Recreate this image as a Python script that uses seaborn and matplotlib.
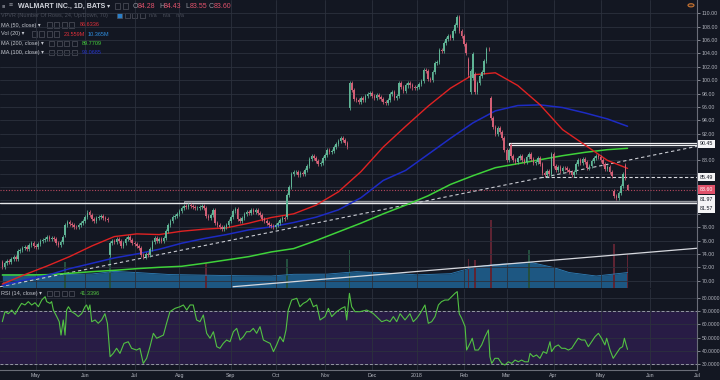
import numpy as np
import pandas as pd
import matplotlib.pyplot as plt
import matplotlib.transforms as mtransforms
from matplotlib.patches import Rectangle, Circle
import seaborn as sns

# trading calendar of the chart (NYSE holidays are skipped)
start_date = "2017-04-07"
calendar_end = "2018-07-31"
holidays = ["2017-04-14", "2017-05-29", "2017-07-04", "2017-09-04", "2017-11-23",
            "2017-12-25", "2018-01-01", "2018-01-15", "2018-02-19", "2018-03-30",
            "2018-05-28", "2018-07-04"]

# daily closes 2017-04-07 .. 2018-05-17
closes = [
    72.1, 72.6, 73.0, 72.8, 73.3, 73.5, 73.2, 74.4, 74.6, 74.9, 75.0, 74.8, 75.3, 75.6, 75.2,  # Apr
    75.1, 75.5, 76.0, 76.1, 76.3, 76.6, 76.2, 76.4, 76.2, 75.6, 75.3, 75.8, 76.6, 78.4, 78.8,
    78.5, 78.3, 78.1, 78.0, 78.3, 78.6, 78.9,  # May
    79.6, 80.2, 79.8, 79.2, 79.0, 79.4, 79.5, 79.7, 79.4, 79.2, 79.1, 75.6, 75.9, 75.8, 76.2,
    76.0, 75.2, 75.6, 76.3, 76.5, 76.1, 75.7,  # Jun
    75.5, 75.2, 74.9, 73.8, 73.6, 74.0, 73.9, 74.8, 75.8, 76.4, 76.0, 76.2, 76.0, 76.4, 77.4,
    78.3, 78.9, 79.5, 79.7, 80.0,  # Jul
    80.4, 80.8, 81.1, 81.0, 81.3, 81.2, 81.0, 80.8, 80.9, 81.0, 81.2, 80.9, 79.7, 79.4, 79.9,
    80.5, 78.7, 78.4, 78.0, 77.8, 78.1, 78.4, 79.0,  # Aug
    79.5, 80.4, 80.7, 79.2, 78.9, 79.4, 80.0, 80.2, 80.1, 80.5, 80.3, 80.6, 80.1, 79.8, 79.3,
    79.0, 78.7, 78.4, 78.2, 78.1,  # Sep
    78.3, 78.6, 79.1, 79.4, 79.3, 82.8, 84.0, 85.9, 86.2, 86.3, 85.8, 86.1, 85.9, 86.5, 87.2,
    88.2, 88.6, 88.3, 87.9, 87.4, 87.6, 88.4,  # Oct
    88.8, 89.5, 89.2, 89.4, 90.0, 90.4, 90.9, 91.3, 91.0, 90.6, 90.0, 99.6, 98.6, 97.2, 97.0,
    96.8, 97.3, 97.0, 97.6, 97.9, 98.1,  # Nov
    97.6, 97.3, 97.8, 97.5, 97.2, 96.8, 96.6, 97.1, 97.9, 98.3, 97.4, 97.6, 99.6, 99.0, 98.4,
    99.2, 99.5, 99.2, 98.9, 98.8,  # Dec
    99.0, 99.4, 99.8, 101.5, 101.3, 100.2, 100.0, 101.2, 102.5, 102.7, 104.5, 104.3, 105.6,
    106.1, 106.6, 106.3, 107.4, 108.3, 109.5, 107.3, 106.6,  # Jan
    105.4, 104.1, 100.7, 101.4, 103.9, 98.2, 99.6, 100.6, 101.2, 102.8, 104.7, 104.6, 94.4,
    93.0, 91.9, 92.9, 92.3, 91.3, 89.6,  # Feb
    88.0, 89.6, 88.6, 88.0, 87.8, 88.3, 88.6, 88.1, 87.8, 88.5, 88.9, 88.2, 87.6, 87.8, 88.3,
    87.4, 86.1, 85.8, 86.4, 86.0, 89.0,  # Mar
    87.2, 86.6, 87.0, 86.4, 86.9, 86.8, 86.5, 86.2, 85.8, 86.3, 87.4, 88.0, 87.6, 88.2, 87.7,
    86.8, 87.2, 87.9, 88.4, 88.6, 88.5,  # Apr
    88.0, 87.5, 86.7, 87.0, 86.3, 85.6, 82.6, 82.3, 83.1, 84.1, 86.0, 85.4, 83.6,  # May
]
# sessions whose open gapped away from the prior close
gap_opens = {0: 72.8, 28: 76.9, 48: 73.9, 127: 79.6, 155: 95.8, 208: 103.2, 209: 98.3,
             210: 100.3, 211: 100.9, 218: 97.4, 227: 90.3, 273: 83.4, 278: 87.3, 279: 84.28}
last_high, last_low = 84.43, 83.55

# moving averages, sampled every 10 sessions
ma_day = [0, 10, 20, 30, 40, 50, 60, 70, 80, 90, 100, 110, 120, 130, 140, 150, 160, 170,
          180, 190, 200, 210, 220, 230, 240, 250, 260, 270, 279]
ma50 = [69.5, 70.9, 72.2, 73.6, 75.2, 76.6, 77.0, 76.9, 77.4, 77.7, 77.9, 78.6, 79.45, 80.0,
        81.3, 83.3, 86.3, 90.0, 93.1, 96.1, 98.8, 100.8, 101.1, 99.2, 96.3, 92.6, 90.3, 88.0, 86.8]
ma100 = [69.3, 70.1, 70.8, 71.8, 72.6, 73.4, 74.0, 74.7, 75.6, 76.3, 76.9, 77.6, 78.05, 78.7,
         79.5, 80.6, 82.4, 85.0, 86.5, 88.9, 91.3, 93.6, 95.4, 96.2, 96.3, 95.9, 95.1, 94.2, 93.1]
ma200 = [70.85, 70.85, 70.9, 71.1, 71.35, 71.55, 71.8, 72.0, 72.15, 72.6, 73.1, 73.6, 74.3, 74.8,
         76.0, 77.3, 78.6, 80.0, 81.3, 82.7, 84.4, 85.7, 86.9, 87.5, 88.1, 88.7, 89.2, 89.6, 89.8]

# volume (millions): 20-day average area and the few bars that stick out above it
vol_ma_day = [0, 20, 40, 50, 60, 75, 90, 105, 120, 130, 145, 158, 170, 185, 200, 210, 220,
              236, 246, 253, 265, 272, 279]
vol_ma = [8.8, 8.8, 9.4, 11.2, 10.4, 9.0, 8.6, 8.2, 8.0, 9.2, 9.3, 11.0, 10.2, 8.8, 9.6, 14.0,
          16.0, 17.4, 13.9, 10.4, 8.0, 9.2, 10.4]
vol_spike_day = [28, 48, 91, 127, 155, 208, 211, 218, 235, 273, 279]
vol_spike = [18, 21, 17, 20, 26, 20, 19, 47, 26, 30, 23.6]

# RSI(14): (session, value)
rsi_points = [
    (0, 62.0), (1.2, 69.5), (2.7, 68.0), (4.2, 70.7), (5.7, 67.5), (7.2, 72.0), (8.6, 75.7),
    (10.1, 74.5), (11.6, 77.0), (13.1, 74.5), (14.6, 76.2), (16.1, 73.2), (17.6, 78.2),
    (19.1, 80.7), (19.8, 77.0), (21.3, 75.7), (22.0, 77.0), (22.8, 70.7), (24.3, 65.8),
    (25.4, 62.0), (26.2, 52.0), (27.2, 63.3), (28.0, 52.0), (28.7, 70.7), (29.5, 73.2),
    (30.9, 69.5), (32.4, 68.0), (33.9, 65.8), (35.4, 68.0), (36.9, 73.2), (37.6, 74.5),
    (38.4, 70.7), (39.1, 74.5), (39.9, 62.0), (41.4, 63.3), (42.8, 60.8), (44.3, 63.3),
    (45.8, 68.0), (46.9, 60.8), (48.1, 35.8), (49.5, 38.3), (51.0, 42.1), (52.5, 38.3),
    (54.3, 45.8), (56.2, 47.0), (57.7, 42.1), (59.9, 40.8), (61.4, 42.1), (62.9, 30.8),
    (64.4, 34.6), (65.9, 43.3), (67.4, 53.3), (68.9, 49.6), (70.4, 50.8), (71.9, 52.0),
    (73.3, 60.8), (74.8, 69.5), (77.1, 72.0), (79.3, 73.2), (80.8, 74.5), (82.3, 70.7),
    (83.8, 74.5), (85.2, 74.5), (86.7, 63.3), (88.2, 62.0), (89.7, 67.0), (91.2, 53.3),
    (92.7, 49.6), (94.2, 54.5), (95.7, 43.3), (97.1, 42.1), (98.6, 45.8), (100.1, 48.3),
    (101.6, 47.0), (103.1, 54.5), (104.6, 57.0), (106.1, 48.3), (107.6, 50.8), (109.0, 54.5),
    (110.5, 54.5), (112.0, 57.0), (113.5, 53.3), (115.0, 58.3), (116.5, 48.3), (118.0, 47.0),
    (119.5, 45.8), (121.0, 39.6), (122.4, 44.6), (123.9, 50.8), (125.4, 47.0), (126.6, 55.8),
    (127.6, 70.7), (129.1, 78.2), (131.4, 79.5), (132.8, 73.2), (134.3, 75.7), (135.8, 77.0),
    (137.3, 79.5), (138.8, 73.2), (140.3, 74.5), (141.8, 63.3), (144.0, 65.8), (145.5, 72.0),
    (147.0, 65.8), (149.2, 69.5), (151.4, 72.0), (152.9, 73.2), (153.7, 63.3), (154.9, 83.2),
    (155.9, 73.2), (157.4, 69.5), (159.6, 69.5), (162.6, 70.7), (164.1, 69.5), (165.6, 68.0),
    (167.8, 64.5), (169.3, 62.0), (171.5, 63.3), (173.0, 62.0), (174.5, 65.8), (176.0, 62.0),
    (177.5, 68.0), (179.7, 63.3), (181.9, 68.0), (183.4, 62.0), (184.9, 64.5), (186.4, 68.0),
    (188.6, 74.5), (190.1, 60.8), (191.6, 62.0), (193.1, 65.8), (194.6, 74.5), (196.0, 77.0),
    (197.5, 78.2), (199.0, 78.2), (200.5, 80.7), (202.0, 83.2), (203.0, 84.5), (203.9, 68.0),
    (205.0, 64.5), (206.5, 58.3), (207.2, 40.8), (208.7, 45.8), (209.7, 49.6), (210.9, 40.8),
    (212.4, 40.8), (213.9, 44.6), (215.4, 50.8), (216.9, 55.8), (217.6, 35.8), (218.4, 30.8),
    (219.8, 34.6), (221.3, 34.6), (222.8, 30.8), (224.3, 29.6), (225.8, 32.0), (227.3, 30.8),
    (228.8, 33.3), (230.3, 32.0), (231.7, 33.3), (233.2, 32.0), (234.7, 32.0), (235.5, 38.3),
    (236.9, 35.8), (238.4, 37.1), (239.9, 34.6), (241.4, 39.6), (242.9, 38.3), (244.4, 47.0),
    (245.1, 39.6), (246.6, 43.3), (248.1, 44.6), (249.6, 42.1), (251.1, 42.1), (252.6, 40.8),
    (254.1, 42.1), (255.5, 45.8), (257.0, 49.6), (258.5, 48.3), (260.0, 48.3), (261.5, 43.3),
    (263.0, 47.0), (264.5, 50.8), (266.0, 53.3), (267.4, 49.6), (268.9, 44.6), (269.7, 49.6),
    (271.2, 40.8), (272.6, 34.6), (274.1, 38.3), (275.6, 42.1), (276.8, 43.3), (277.6, 49.6),
    (278.4, 44.6), (279.0, 41.3),
]

# drawings on the chart
trend_dash_day, trend_dash_price = [-1.0, 310.0], [69.1, 90.1]
trend_low_day, trend_low_price = [103.0, 310.0], [69.1, 74.85]
resist_box = (226, 90.25, 90.55)          # start session, bottom, top
support_box = (81, 81.57, 81.97)
support_dash = (240, 85.49)
last_price = 83.60
hidden_scale_labels = [80, 82, 84, 86, 90]   # covered by the price tags

# ---------------------------------------------------------------
BG = "#131722"
GRID = "#2c313d"
TXT = "#b2b5be"
UP, DN = "#5fb495", "#d35f76"

sns.set_theme(style="dark", rc={"axes.facecolor": BG, "figure.facecolor": BG,
                                "savefig.facecolor": BG, "axes.edgecolor": "#5d606b"})
plt.rcParams["font.family"] = ["Liberation Sans", "DejaVu Sans"]

c = np.array(closes)
o = np.r_[c[0], c[:-1]]
for k, v in gap_opens.items():
    o[k] = v
hi = np.maximum(o, c) + 0.3
lo = np.minimum(o, c) - 0.3
hi[-1], lo[-1] = last_high, last_low
days = np.arange(len(c))
col = np.where(c >= o, UP, DN)

cal = pd.bdate_range(start_date, calendar_end, freq="C", holidays=holidays)
pos = pd.Series(np.arange(len(cal)), index=cal)
firsts = pos.groupby(cal.to_period("M")).first().iloc[1:]
mticks = firsts.values
mlabels = [str(p.year) if p.month == 1 else p.strftime("%b") for p in firsts.index]

W, H = 720, 380
fig = plt.figure(figsize=(7.2, 3.8), dpi=100)
ax = fig.add_axes([0, 1 - 287.5 / H, 697 / W, 287.5 / H])
axr = fig.add_axes([0, 1 - 370 / H, 697 / W, 81 / H], sharex=ax)
axv = ax.twinx()
ax.set_zorder(axv.get_zorder() + 1)
ax.patch.set_visible(False)
axv.patch.set_facecolor(BG)

xlim = (-1.03, 310.0)
ax.set_xlim(*xlim)
ax.set_ylim(68.98, 111.99)
axv.set_ylim(0, 200)
axr.set_ylim(25.87, 86.45)

# volume
axv.fill_between(vol_ma_day, 0, vol_ma, color="#1d5782", lw=0)
axv.plot(vol_ma_day, vol_ma, color="#2f7fb8", lw=0.6)
spike_col = ["#24503f" if c[d] >= o[d] else "#5e2433" for d in vol_spike_day]
axv.bar(vol_spike_day, vol_spike, width=0.7, color=spike_col, lw=0)
axv.set_yticks([])
for s in axv.spines.values():
    s.set_visible(False)

# grid
for a in (ax, axr):
    a.set_xticks(mticks)
    a.grid(True, color=GRID, lw=0.6)
    a.set_axisbelow(True)
ax.set_yticks(np.arange(70, 111, 2))
axr.set_yticks(np.arange(30, 81, 10))

# drawings under the candles
ax.add_patch(Rectangle((support_box[0], support_box[1]), xlim[1] - support_box[0],
                       support_box[2] - support_box[1], fc="#8e919b", ec="#e6e7ea",
                       alpha=0.55, lw=0.7, zorder=2))
ax.axhline(support_box[1], color="#e6e7ea", lw=1.0, zorder=2)
ax.add_patch(Rectangle((resist_box[0], resist_box[1]), xlim[1] - resist_box[0],
                       resist_box[2] - resist_box[1], fc="none", ec="#f0f1f3", lw=0.9, zorder=2))
ax.plot([support_dash[0], xlim[1]], [support_dash[1]] * 2, color="#d8dae0", lw=0.8,
        ls=(0, (3, 2)), zorder=2)
ax.axhline(last_price, color="#b8485f", lw=0.8, ls=(0, (1, 1.5)), zorder=2)
ax.plot(trend_dash_day, trend_dash_price, color="#c9cbd2", lw=0.8, ls=(0, (3, 2.5)), zorder=2)
ax.plot(trend_low_day, trend_low_price, color="#d6d8de", lw=0.9, zorder=2)

# moving averages
sns.lineplot(x=ma_day, y=ma200, ax=ax, color="#3fd23a", lw=1.1, zorder=5)
sns.lineplot(x=ma_day, y=ma100, ax=ax, color="#1d2bc4", lw=1.1, zorder=5)
sns.lineplot(x=ma_day, y=ma50, ax=ax, color="#e02222", lw=1.0, zorder=5)

# candles
ax.vlines(days, lo, hi, colors=col, lw=0.55, zorder=6)
ax.bar(days, np.maximum(np.abs(c - o), 0.1), bottom=np.minimum(o, c), width=0.7,
       color=col, lw=0, zorder=6)

# RSI pane
axr.axhspan(30, 70, color="#281c45", zorder=0)
for lvl in (70, 30):
    axr.axhline(lvl, color="#9598a4", lw=0.7, ls=(0, (3, 2)), zorder=2)
rsi_day = [p[0] for p in rsi_points]
rsi_val = [p[1] for p in rsi_points]
sns.lineplot(x=rsi_day, y=rsi_val, ax=axr, color="#52c143", lw=0.8, zorder=3)

# axes styling
for a in (ax, axr):
    a.set_xlabel("")
    a.set_ylabel("")
    a.yaxis.tick_right()
    for side in ("top", "left", "bottom"):
        a.spines[side].set_visible(False)
    a.spines["right"].set_color("#6a6d78")
    a.spines["right"].set_linewidth(0.8)
    a.tick_params(axis="y", labelsize=3.8, colors=TXT, length=2, width=0.5, pad=1.2)
ax.yaxis.set_major_formatter(plt.FuncFormatter(
    lambda v, p: "" if round(v) in hidden_scale_labels else f"{v:.2f}"))
axr.yaxis.set_major_formatter(plt.FormatStrFormatter("%.4f"))
axr.tick_params(axis="y", labelsize=3.6)
ax.tick_params(axis="x", labelbottom=False, length=0)
axr.spines["bottom"].set_visible(True)
axr.spines["bottom"].set_color("#6a6d78")
axr.spines["bottom"].set_linewidth(0.8)
axr.set_xticklabels(mlabels)
axr.tick_params(axis="x", labelsize=3.8, colors=TXT, length=0, pad=2.2)

# price labels on the scale
blend = mtransforms.blended_transform_factory(ax.transAxes, ax.transData)
def tag(price, text, fc, tc, dy=0):
    ax.annotate(text, xy=(1.0, price), xycoords=blend, xytext=(2.5, dy),
                textcoords="offset pixels", ha="left", va="center", fontsize=3.8,
                color=tc, annotation_clip=False, zorder=10,
                bbox=dict(boxstyle="square,pad=0.35", fc=fc, ec="none"))
tag(90.45, "90.45", "#f4f4f6", "#131722")
tag(85.49, "85.49", "#f4f4f6", "#131722")
tag(83.60, "83.60", "#e0526b", "#ffffff")
tag(81.97, "81.97", "#f4f4f6", "#131722", dy=1)
tag(81.57, "81.57", "#f4f4f6", "#131722", dy=-5.5)

# legend block
def px(x, y):
    return x / W, 1 - y / H
def t(x, y, s, color=TXT, size=4.0, **kw):
    fig.text(*px(x, y), s, color=color, fontsize=size, va="center", ha="left", **kw)
def boxes(x0, y, n, first=None):
    for i in range(n):
        fc = first if (i == 0 and first) else "none"
        fig.add_artist(Rectangle(px(x0 + 7.5 * i, y + 2.6), 5.2 / W, 5.2 / H,
                                 transform=fig.transFigure, fc=fc, ec="#50535e", lw=0.5))

t(2, 6, "\u25a0", color="#6a6d78", size=4)
t(9, 6, "\u2261", color="#9598a1", size=5)
t(18, 6, "WALMART INC., 1D, BATS", color="#d1d4dc", size=5.0, weight="bold")
t(107, 6, "\u25be", color="#d1d4dc", size=4.5)
boxes(115, 6, 2)
for x0, lab, val in [(133, "O", "84.28"), (159, "H", "84.43"), (185, "L", "83.55"),
                     (209, "C", "83.60")]:
    t(x0, 6, lab, color="#9598a1", size=5.0)
    t(x0 + 4.6, 6, val, color="#e0526b", size=5.0)

t(1, 15.7, "VPVR (Number Of Rows, 24, Up/Down, 70)", color="#4b4f5b", size=4.0)
boxes(117, 15.7, 4, first="#2a7fc9")
t(149, 15.7, "n/a    n/a    n/a", color="#4b4f5b", size=4.0)

rows = [(25, "MA (50, close) \u25be", 46.7, [("86.6336", "#e0303a", 80)]),
        (34, "Vol (20) \u25be", 31.7, [("23.559M", "#e0303a", 63.3), ("10.365M", "#2f8ee0", 87.3)]),
        (43.3, "MA (200, close) \u25be", 49, [("89.7709", "#45d23c", 81.7)]),
        (52.7, "MA (100, close) \u25be", 49, [("93.0685", "#2331c8", 81.7)])]
for y, lab, bx, vals in rows:
    t(1, y, lab, color="#c3c6ce", size=4.0)
    boxes(bx, y, 4)
    for s, cc, xx in vals:
        t(xx, y, s, color=cc, size=4.0)

t(1, 293.8, "RSI (14, close) \u25be", color="#c3c6ce", size=4.0)
boxes(46.7, 293.8, 4)
t(80, 293.8, "41.3396", color="#52c143", size=4.0)

fig.add_artist(Circle(px(691, 5.3), 3 / W, transform=fig.transFigure, fc="#3a2a22",
                      ec="#c87432", lw=0.8))

fig.savefig("out.png", dpi=100, facecolor=BG)
